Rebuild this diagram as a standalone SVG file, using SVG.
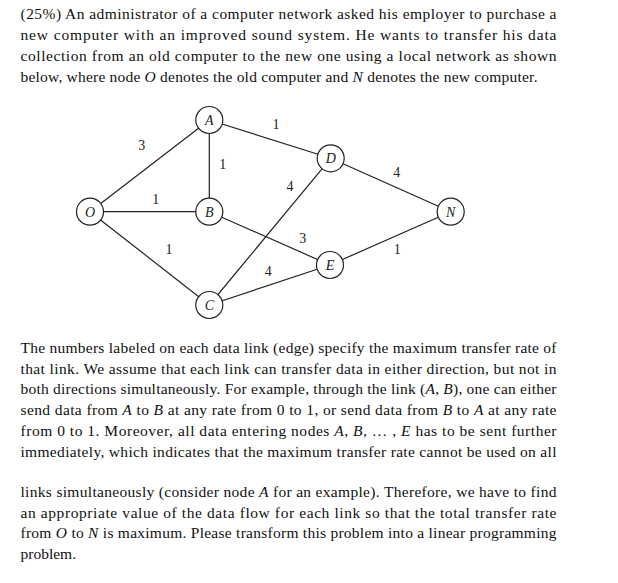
<svg xmlns="http://www.w3.org/2000/svg" width="618" height="583" viewBox="0 0 618 583">
<style>
.t{font-family:'Liberation Serif','Times New Roman',Times,serif;font-size:15.5px;fill:#111}
.i{font-style:italic}
.e{stroke:#222;stroke-width:1.2;fill:none}
.n{fill:#fff;stroke:#222;stroke-width:1.2}
.nl{font-family:'Liberation Serif','Times New Roman',Times,serif;font-size:14px;font-style:italic;fill:#222;text-anchor:middle}
.w{font-family:'Liberation Serif','Times New Roman',Times,serif;font-size:14px;fill:#222;text-anchor:middle}
</style>
<rect width="618" height="583" fill="#fff"/>
<g id="para1">
<text class="t" x="20.5" y="18.5" textLength="536" lengthAdjust="spacing">(25%) An administrator of a computer network asked his employer to purchase a</text>
<text class="t" x="20.5" y="39.5" textLength="536" lengthAdjust="spacing">new computer with an improved sound system. He wants to transfer his data</text>
<text class="t" x="20.5" y="60.5" textLength="536" lengthAdjust="spacing">collection from an old computer to the new one using a local network as shown</text>
<text class="t" x="20.5" y="81.5" textLength="517" lengthAdjust="spacing">below, where node <tspan class="i">O</tspan> denotes the old computer and <tspan class="i">N</tspan> denotes the new computer.</text>
</g>
<g id="connectors">
<line class="e" x1="90" y1="211.7" x2="209.3" y2="120"/>
<line class="e" x1="90" y1="211.7" x2="209.3" y2="211.7"/>
<line class="e" x1="90" y1="211.7" x2="209.3" y2="305"/>
<line class="e" x1="209.3" y1="120" x2="209.3" y2="211.7"/>
<line class="e" x1="209.3" y1="120" x2="330.7" y2="158.3"/>
<line class="e" x1="209.3" y1="211.7" x2="330" y2="265"/>
<line class="e" x1="209.3" y1="305" x2="330.7" y2="158.3"/>
<line class="e" x1="209.3" y1="305" x2="330" y2="265"/>
<line class="e" x1="330.7" y1="158.3" x2="450.7" y2="211.7"/>
<line class="e" x1="330" y1="265" x2="450.7" y2="211.7"/>
<text class="w" x="141.7" y="150">3</text>
<text class="w" x="276" y="129.3">1</text>
<text class="w" x="222.7" y="169">1</text>
<text class="w" x="290" y="190.7">4</text>
<text class="w" x="155.7" y="204">1</text>
<text class="w" x="396.7" y="176.7">4</text>
<text class="w" x="302.7" y="243.3">3</text>
<text class="w" x="169" y="254">1</text>
<text class="w" x="268.3" y="276">4</text>
<text class="w" x="397.3" y="254">1</text>
</g>
<g id="node-O"><circle class="n" cx="90" cy="211.7" r="13.5"/><text class="nl" x="90" y="216.5">O</text></g>
<g id="node-A"><circle class="n" cx="209.3" cy="120" r="13.5"/><text class="nl" x="209.3" y="124.8">A</text></g>
<g id="node-B"><circle class="n" cx="209.3" cy="211.7" r="13.5"/><text class="nl" x="209.3" y="216.5">B</text></g>
<g id="node-C"><circle class="n" cx="209.3" cy="305" r="13.5"/><text class="nl" x="209.3" y="309.8">C</text></g>
<g id="node-D"><circle class="n" cx="330.7" cy="158.3" r="13.5"/><text class="nl" x="330.7" y="163.1">D</text></g>
<g id="node-E"><circle class="n" cx="330" cy="265" r="13.5"/><text class="nl" x="330" y="269.8">E</text></g>
<g id="node-N"><circle class="n" cx="450.7" cy="211.7" r="13.5"/><text class="nl" x="450.7" y="216.5">N</text></g>
<g id="para2">
<text class="t" x="20.5" y="352.5" textLength="536" lengthAdjust="spacing">The numbers labeled on each data link (edge) specify the maximum transfer rate of</text>
<text class="t" x="20.5" y="373.5" textLength="536" lengthAdjust="spacing">that link. We assume that each link can transfer data in either direction, but not in</text>
<text class="t" x="20.5" y="394.3" textLength="536" lengthAdjust="spacing">both directions simultaneously. For example, through the link (<tspan class="i">A</tspan>, <tspan class="i">B</tspan>), one can either</text>
<text class="t" x="20.5" y="415.2" textLength="536" lengthAdjust="spacing">send data from <tspan class="i">A</tspan> to <tspan class="i">B</tspan> at any rate from 0 to 1, or send data from <tspan class="i">B</tspan> to <tspan class="i">A</tspan> at any rate</text>
<text class="t" x="20.5" y="436" textLength="536" lengthAdjust="spacing">from 0 to 1. Moreover, all data entering nodes <tspan class="i">A</tspan>, <tspan class="i">B</tspan>, … , <tspan class="i">E</tspan> has to be sent further</text>
<text class="t" x="20.5" y="457" textLength="536" lengthAdjust="spacing">immediately, which indicates that the maximum transfer rate cannot be used on all</text>
<text class="t" x="20.5" y="496.7" textLength="536" lengthAdjust="spacing">links simultaneously (consider node <tspan class="i">A</tspan> for an example). Therefore, we have to find</text>
<text class="t" x="20.5" y="517.5" textLength="536" lengthAdjust="spacing">an appropriate value of the data flow for each link so that the total transfer rate</text>
<text class="t" x="20.5" y="538.3" textLength="536" lengthAdjust="spacing">from <tspan class="i">O</tspan> to <tspan class="i">N</tspan> is maximum. Please transform this problem into a linear programming</text>
<text class="t" x="20.5" y="559.3">problem.</text>
</g>
</svg>
